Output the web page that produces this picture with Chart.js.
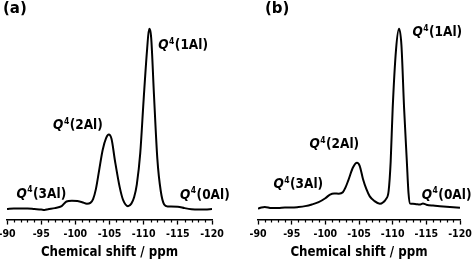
<!DOCTYPE html>
<html>
<head>
<meta charset="utf-8">
<script src="https://cdn.jsdelivr.net/npm/chart.js@4"></script>
<style>
  body { margin: 0; background: #fff; }
  .panel { position: absolute; top: 0; width: 237px; height: 261px; }
  .tag { position: absolute; top: -1px; font: bold 15px "DejaVu Sans", sans-serif; color: #000; }
</style>
</head>
<body>
<div class="panel" style="left:0"><canvas id="chartA" width="237" height="261"></canvas></div>
<div class="panel" style="left:237px"><canvas id="chartB" width="237" height="261"></canvas></div>
<div class="tag" style="left:3px">(a)</div>
<div class="tag" style="left:265px">(b)</div>
<script>
// espectros (ppm, intensidade relativa)
const ppmA = [-90, -91, -92, -93, -94, -95, -95.5, -96, -97, -98, -98.7, -99.5, -100.3, -101, -101.7, -102.2, -102.6,
  -103, -103.5, -104, -104.5, -104.9, -105.3, -105.8, -106.5, -107, -107.7, -108.2, -108.6, -109, -109.5, -110,
  -110.5, -110.8, -111.1, -111.5, -112, -112.5, -113, -113.5, -114, -115, -116, -117, -118, -119, -120];
const intA = [0, 0.3, 0.3, 0.3, 0, -0.3, -0.5, -0.1, 0.5, 1.6, 4.2, 4.6, 4.4, 3.8, 2.9, 3.4, 5.5,
  10.9, 21.9, 32.8, 39.3, 41.3, 38.8, 26.8, 12, 4.9, 1.6, 3, 6.5, 13.7, 31, 61,
  88.5, 100, 95, 64, 28, 10, 2.5, 1.4, 1.4, 1.3, 0.5, -0.1, -0.3, -0.2, 0];

const ppmB = [-90, -90.5, -91, -92, -93, -94, -95, -96, -97, -98, -99, -100, -100.7, -101.3, -102, -102.6,
  -103, -103.4, -104.1, -104.7, -105.1, -105.6, -106.1, -106.6, -107.3, -108.1, -108.6, -109, -109.4, -109.7,
  -110, -110.5, -110.95, -111.3, -111.7, -112.1, -112.35, -112.6, -113, -113.5, -114, -114.5, -115, -116,
  -117, -118, -119, -120];
const intB = [0.2, 0.8, 1.1, 0.5, 0.5, 0.8, 0.8, 1.1, 1.6, 2.5, 3.8, 6, 8, 8.6, 8.5, 9.3,
  12, 15.8, 23, 25.7, 24, 16.5, 11, 7, 4.4, 2.9, 3.8, 5.5, 10, 26,
  55.7, 88.5, 100, 91, 55.7, 26.8, 9, 3, 2.9, 2.7, 2.5, 3, 2.4, 1.9,
  1.6, 1.3, 1, 0.7];

const xTicks = [-90, -95, -100, -105, -110, -115, -120];

// rótulos dos sítios: [nº de Al, ppm, intensidade]
const labelsA = [['1', -112.13, 90.7], ['2', -96.74, 46.4], ['3', -91.38, 8.2], ['0', -115.31, 7.65]];
const labelsB = [['1', -112.93, 97.8], ['2', -97.63, 35.8], ['3', -92.29, 13.4], ['0', -114.31, 7.65]];

const FAM = '"DejaVu Sans Condensed", "DejaVu Sans", sans-serif';

const minorTicks = {
  id: 'minorTicks',
  afterDraw(chart) {
    const sx = chart.scales.x;
    const c = chart.ctx;
    c.save();
    c.strokeStyle = '#000';
    c.lineWidth = 1.2;
    c.beginPath();
    for (let v = -120; v <= -90; v++) {
      if (v % 5 === 0) continue;
      const px = Math.round(sx.getPixelForValue(v)) + 0.5;
      c.moveTo(px, sx.top);
      c.lineTo(px, sx.top + 3);
    }
    c.stroke();
    c.restore();
  }
};

const siteLabels = {
  id: 'siteLabels',
  afterDatasetsDraw(chart, args, opts) {
    const c = chart.ctx;
    const sx = chart.scales.x, sy = chart.scales.y;
    c.save();
    c.fillStyle = '#000';
    c.textBaseline = 'middle';
    c.textAlign = 'left';
    opts.items.forEach(([n, p, v]) => {
      let px = sx.getPixelForValue(p);
      const py = sy.getPixelForValue(v);
      c.font = 'italic bold 13.5px ' + FAM;
      c.fillText('Q', px, py);
      px += c.measureText('Q').width + 0.5;
      c.font = 'bold 8.5px ' + FAM;
      c.fillText('4', px, py - 4);
      px += c.measureText('4').width + 0.5;
      c.font = 'bold 13.5px ' + FAM;
      c.fillText('(' + n + 'Al)', px, py);
    });
    c.restore();
  }
};

function makeChart(id, ppm, vals, labels, padL, padR) {
  return new Chart(document.getElementById(id), {
    type: 'line',
    data: {
      datasets: [{
        data: ppm.map((p, i) => ({ x: p, y: vals[i] })),
        borderColor: '#000',
        borderWidth: 2,
        pointRadius: 0,
        cubicInterpolationMode: 'monotone',
        fill: false
      }]
    },
    options: {
      responsive: false,
      animation: false,
      layout: { padding: { left: padL, right: padR, top: 20, bottom: 0 } },
      plugins: {
        legend: { display: false },
        tooltip: { enabled: false },
        siteLabels: { items: labels }
      },
      scales: {
        x: {
          type: 'linear',
          min: -120,
          max: -90,
          reverse: true,
          afterBuildTicks: (s) => { s.ticks = xTicks.map(v => ({ value: v })); },
          afterFit: (s) => { s.paddingLeft = 0; s.paddingRight = 0; },
          border: { color: '#000', width: 1.5 },
          grid: { drawOnChartArea: false, color: '#000', tickLength: 5, tickWidth: 1.3 },
          ticks: {
            color: '#000',
            padding: 3,
            maxRotation: 0,
            font: { family: FAM, weight: 'bold', size: 10.5 }
          },
          title: {
            display: true,
            text: 'Chemical shift / ppm',
            color: '#000',
            padding: { top: 1, bottom: 1 },
            font: { family: FAM, weight: 'bold', size: 13.2 }
          }
        },
        y: { display: false, min: -5.85, max: 104.9 }
      }
    },
    plugins: [minorTicks, siteLabels]
  });
}

makeChart('chartA', ppmA, intA, labelsA, 7, 25);
makeChart('chartB', ppmB, intB, labelsB, 21, 14);
</script>
</body>
</html>
